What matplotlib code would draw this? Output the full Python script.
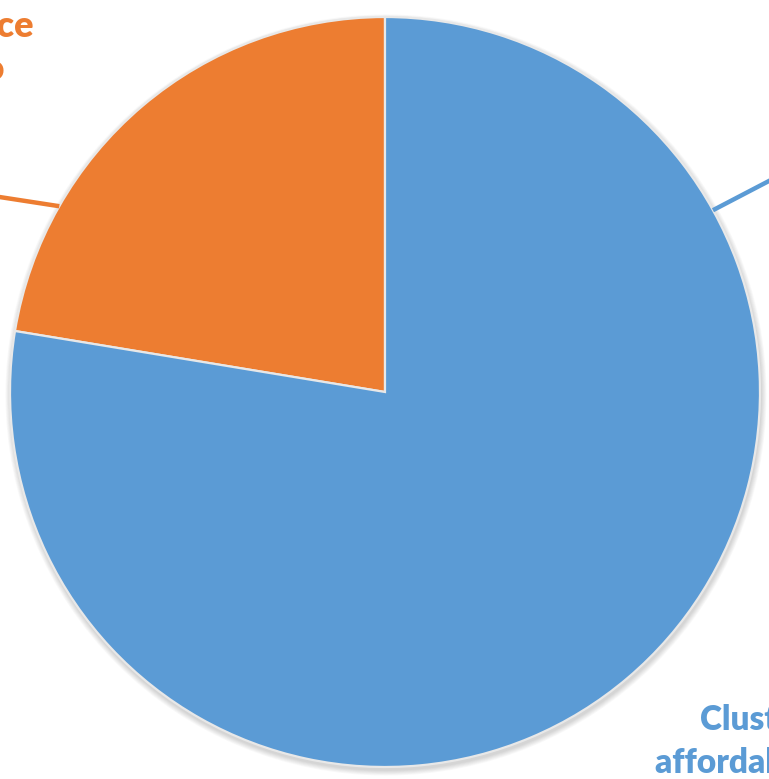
import matplotlib.pyplot as plt
import numpy as np
from matplotlib.patches import Circle

# slice shares (percent), start at 12 o'clock going counter-clockwise
categories = ["Office space\nand studio", "Cluster housing\naffordable units"]
shares = [22.4, 77.6]
colors = ["#ED7D31", "#5B9BD5"]

# chart sits in a pixel-sized canvas, partly cropped like the original
W, H = 769, 779
cx, cy, r = 385, 779 - 392, 375

fig = plt.figure(figsize=(W / 100, H / 100), dpi=100)
ax = fig.add_axes([0, 0, 1, 1])
ax.set_xlim(0, W)
ax.set_ylim(0, H)
ax.set_aspect("equal")
ax.axis("off")

# soft shadow, a little below the pie
for i in range(1, 8):
    ax.add_patch(Circle((cx + 1, cy - 3), r + i * 0.8, color="black",
                        alpha=0.025, lw=0, zorder=0))
ax.add_patch(Circle((cx, cy), r, color="white", lw=0, zorder=0.5))

wedges, _ = ax.pie(shares, colors=colors, startangle=90, counterclock=True,
                   center=(cx, cy), radius=r, frame=True,
                   wedgeprops=dict(edgecolor="#E8E8E8", linewidth=1.6))
for w in wedges:
    w.set_zorder(1)
ax.set_xlim(0, W)
ax.set_ylim(0, H)
ax.axis("off")

# leader lines leaving the slices toward labels outside the crop
leaders = [(150.3, (-20, 194)), (29.0, (790, 170))]
for (ang, end), col in zip(leaders, colors):
    a = np.deg2rad(ang)
    p = (cx + r * np.cos(a), cy + r * np.sin(a))
    ax.plot([p[0], end[0]], [p[1], H - end[1]], color=col, lw=3.2,
            solid_capstyle="butt", zorder=2, clip_on=True)

font = dict(family=["Lato", "DejaVu Sans"], fontweight="heavy")
o1, o2 = categories[0].split("\n")
ax.text(34, H - 37, o1, ha="right", va="baseline", color=colors[0],
        fontsize=26, **font)
ax.text(4, H - 80, o2, ha="right", va="baseline", color=colors[0],
        fontsize=26, **font)
b1, b2 = categories[1].split("\n")
ax.text(700, H - 730, b1, ha="left", va="baseline", color=colors[1],
        fontsize=24, **font)
ax.text(655, H - 773, b2, ha="left", va="baseline", color=colors[1],
        fontsize=24, **font)

fig.savefig("out.png", dpi=100)
